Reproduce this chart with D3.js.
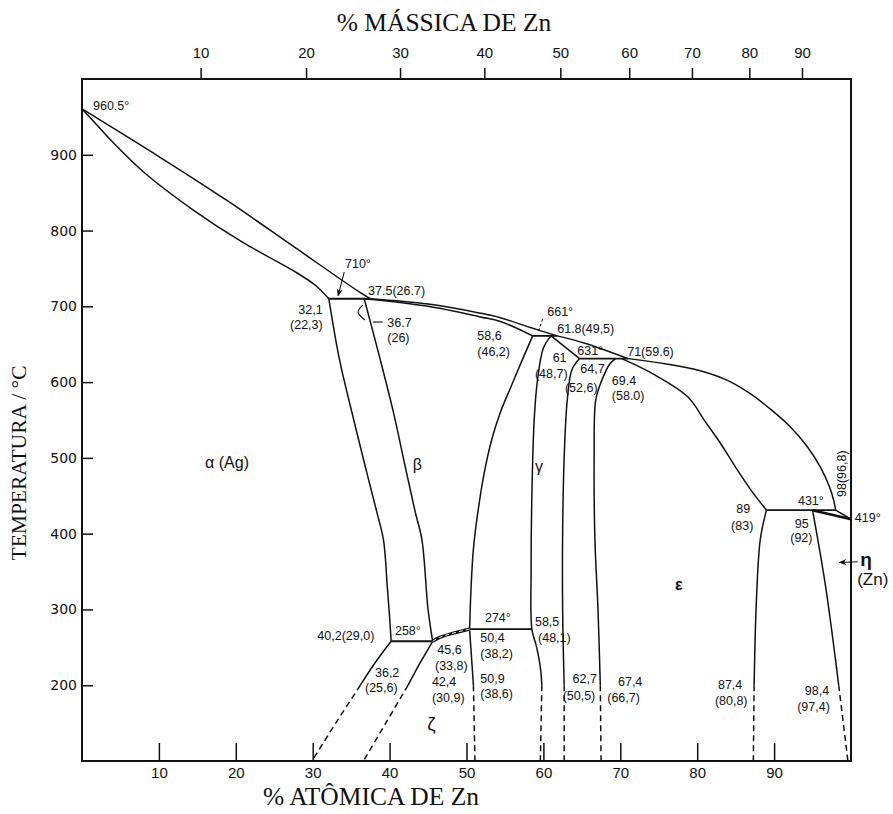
<!DOCTYPE html>
<html>
<head>
<meta charset="utf-8">
<script src="https://cdn.jsdelivr.net/npm/d3@7"></script>
<style>
  body { margin: 0; background: #fff; }
  svg { display: block; }
</style>
</head>
<body>
<svg id="chart" width="893" height="814"></svg>
<script>
// Ag–Zn phase diagram. Compositions in atomic % Zn, temperatures in °C.

// Tick values
const atomicTicks = [10, 20, 30, 40, 50, 60, 70, 80, 90];
const massTicks = [10, 20, 30, 40, 50, 60, 70, 80, 90];
const tempTicks = [200, 300, 400, 500, 600, 700, 800, 900];

// Liquidus and solidus curves
const liquidusAlpha = [[0, 960.5], [10.1, 897], [18.8, 840], [27.5, 779], [36.2, 718], [37.5, 710]];
const solidusAlpha = [[0, 960.5], [1.43, 945], [3.64, 920.4], [7.97, 877.6], [14.47, 827.1], [20.97, 784], [27.48, 747], [30.3, 728.1], [32.1, 710]];
const liquidusBeta = [[37.5, 710], [45, 703], [51.8, 691], [54.4, 685], [58.3, 672], [61.8, 661]];
const solidusBeta = [[36.7, 710], [45, 700], [51.8, 686], [54.4, 680], [58.6, 661]];
const liquidusGamma = [[61.8, 661], [65.5, 651], [71, 631]];
const solidusGamma = [[61, 661], [64.7, 631]];
const liquidusEpsilon = [[71, 631], [76, 624], [80.4, 615], [84, 602], [87, 584], [89.8, 562], [92, 542], [94.3, 515], [96, 488], [97.2, 462], [97.8, 442], [98, 431]];
const solidusEpsilon = [[70.2, 631], [74.3, 610.6], [78.8, 580.3], [81, 548.6], [83, 519.6], [84.9, 489.2], [86.9, 458.8], [89, 431]];
const liquidusZn = [[98, 431], [100, 419]];
const solidusEta = [[95, 431], [100, 419]];

// Invariant (horizontal) lines
const iso710 = [[32.1, 710], [37.5, 710]];
const iso661 = [[58.6, 661], [61.8, 661]];
const iso631 = [[64.7, 631], [71, 631]];
const iso431 = [[89, 431], [98, 431]];
const iso274 = [[50.4, 274], [58.5, 274]];
const iso258 = [[40.2, 258], [45.6, 258]];

// Solid-state boundaries
const alphaBeta = [[32.1, 710], [33.5, 629], [35.1, 560], [36.8, 490], [38.3, 430], [39.2, 392], [39.7, 330], [40, 290], [40.2, 258]];
const betaLeft = [[36.7, 710], [38.8, 629], [40.5, 560], [42, 490], [43.3, 430], [44.2, 392], [45, 300], [45.6, 258]];
const betaRight = [[58.6, 661], [57.2, 628], [55.7, 592], [54.4, 560], [53.3, 525], [52.3, 480], [51.5, 430], [50.9, 380], [50.6, 330], [50.4, 274]];
const gammaLeft = [[61, 661], [60, 645], [59.2, 600], [58.8, 550], [58.5, 450], [58.4, 350], [58.5, 274], [59.1, 251], [59.6, 224], [59.8, 200]];
const gammaLeftLow = [[59.8, 200], [59.6, 100]];
const gammaRight = [[64.7, 631], [63.7, 616], [63.1, 576], [62.7, 500], [62.5, 400], [62.5, 300], [62.7, 200]];
const gammaRightLow = [[62.7, 200], [62.7, 100]];
const epsilonLeft = [[69.4, 631], [68.7, 625], [67.5, 600], [66.8, 576], [66.6, 500], [66.7, 392], [67.1, 300], [67.4, 200]];
const epsilonLeftLow = [[67.4, 200], [67.5, 100]];
const epsilonRight = [[89, 431], [88.2, 392], [87.7, 312], [87.4, 200]];
const epsilonRightLow = [[87.4, 200], [87.3, 100]];
const etaSolvus = [[95, 431], [96.7, 330], [98.4, 200]];
const etaSolvusLow = [[98.4, 200], [99.6, 100]];
const zetaTop = [[45.6, 258], [46.5, 263], [48, 268], [50.4, 274]];
const zetaRight = [[50.4, 274], [50.9, 200]];
const zetaRightLow = [[50.9, 200], [51.1, 100]];
const zetaLeft = [[45.6, 258], [44, 230], [42.4, 200]];
const zetaLeftLow = [[42.4, 200], [39.5, 150], [36.6, 100]];
const alphaZeta = [[40.2, 258], [38, 228], [36.2, 200]];
const alphaZetaLow = [[36.2, 200], [33, 150], [29.9, 100]];

// Point annotations: text, at.% Zn, °C (text start unless marked)
const pointLabels = [
  ["960.5°", 1.43, 959],
  ["710°", 34.2, 750.6],
  ["37.5(26.7)", 37.2, 714.9],
  ["32,1", 31.3, 689.5, "end"],
  ["(22,3)", 31.3, 670, "end"],
  ["36.7", 39.7, 672.7],
  ["(26)", 39.7, 652.9],
  ["58,6", 51.4, 656],
  ["(46,2)", 51.4, 634.4],
  ["661°", 60.5, 687.2],
  ["61.8(49,5)", 61.8, 664.8],
  ["61", 61.2, 626],
  ["(48,7)", 58.9, 605.4],
  ["631°", 64.4, 635.8],
  ["64,7", 64.8, 612],
  ["(52,6)", 62.8, 587],
  ["71(59.6)", 70.9, 634.4],
  ["69.4", 68.9, 596.2],
  ["(58.0)", 68.9, 576.4],
  ["431°", 93.1, 437.8],
  ["419°", 100.5, 415.4],
  ["89", 86.9, 427.3, "end"],
  ["(83)", 87.3, 404.8, "end"],
  ["95", 92.7, 407.5],
  ["(92)", 92.1, 389],
  ["274°", 52.4, 283.4],
  ["40,2(29,0)", 30.6, 259.7],
  ["258°", 40.7, 266.3],
  ["45,6", 46.2, 241],
  ["(33,8)", 45.9, 220.1],
  ["50,4", 51.8, 256.5],
  ["(38,2)", 51.8, 235.9],
  ["36,2", 38.1, 211.5],
  ["(25,6)", 36.8, 191],
  ["42,4", 45.5, 198.5],
  ["(30,9)", 45.5, 178.5],
  ["50,9", 51.8, 203.5],
  ["(38,6)", 51.8, 183.1],
  ["58,5", 58.9, 278],
  ["(48,1)", 59.3, 257],
  ["62,7", 63.8, 203.5],
  ["(50,5)", 62.5, 180.5],
  ["67,4", 69.7, 199],
  ["(66,7)", 68.3, 178.5],
  ["87,4", 82.7, 195.5],
  ["(80,8)", 82.3, 173.9],
  ["98,4", 94, 187.5],
  ["(97,4)", 93, 166]
];
const verticalLabel = ["98(96,8)", 99.35, 448.4];

// Phase field names
const phaseLabels = [
  ["α (Ag)", 16, 486.6],
  ["β", 43, 484],
  ["γ", 58.9, 481],
  ["ε", 77.1, 325.7],
  ["ζ", 44.9, 141]
];

const svg = d3.select("#chart");
const x = d3.scaleLinear().domain([0, 100]).range([82, 851]);
const y = d3.scaleLinear().domain([100, 1000]).range([761, 79]);

// mass % Zn -> atomic % Zn
const M_AG = 107.87, M_ZN = 65.38;
const massToAtomic = w => 100 * (w / M_ZN) / (w / M_ZN + (100 - w) / M_AG);

const ink = "#111";
const sans = "'Liberation Sans', Arial, Helvetica, sans-serif";
const serif = "'Liberation Serif', 'Times New Roman', serif";

const defs = svg.append("defs");
defs.append("marker").attr("id", "arrow")
  .attr("viewBox", "0 0 10 10").attr("refX", 9).attr("refY", 5)
  .attr("markerWidth", 7).attr("markerHeight", 7).attr("orient", "auto-start-reverse")
  .append("path").attr("d", "M0,1 L10,5 L0,9 L3,5 Z").attr("fill", ink);

const smooth = d3.line().x(d => x(d[0])).y(d => y(d[1])).curve(d3.curveCatmullRom.alpha(0.5));
const straight = d3.line().x(d => x(d[0])).y(d => y(d[1]));

const plot = svg.append("g");

function draw(pts, opts = {}) {
  return plot.append("path")
    .attr("d", (opts.straight ? straight : smooth)(pts))
    .attr("fill", "none")
    .attr("stroke", ink)
    .attr("stroke-width", opts.w || 1.5)
    .attr("stroke-dasharray", opts.dash ? "6,4" : null)
    .attr("stroke-linejoin", "round");
}

[liquidusAlpha, solidusAlpha, liquidusBeta, solidusBeta, liquidusGamma, liquidusEpsilon, solidusEpsilon,
 alphaBeta, betaLeft, betaRight, gammaLeft, gammaRight, epsilonLeft, epsilonRight, etaSolvus,
 zetaRight, zetaLeft, alphaZeta].forEach(p => draw(p));
[solidusGamma, liquidusZn].forEach(p => draw(p, { straight: true }));
draw(solidusEta, { straight: true, w: 2.6 });
[iso710, iso661, iso631, iso431, iso274, iso258].forEach(p => draw(p, { straight: true, w: 1.8 }));
[gammaLeftLow, gammaRightLow, epsilonLeftLow, epsilonRightLow, etaSolvusLow, zetaRightLow, zetaLeftLow, alphaZetaLow]
  .forEach(p => draw(p, { dash: true }));

// double boundary on top of the ζ field
draw(zetaTop, { w: 3.2 });
plot.append("path").attr("d", smooth(zetaTop)).attr("fill", "none")
  .attr("stroke", "#fff").attr("stroke-width", 1).attr("stroke-dasharray", "4,3");

// frame
svg.append("rect")
  .attr("x", x(0)).attr("y", y(1000))
  .attr("width", x(100) - x(0)).attr("height", y(100) - y(1000))
  .attr("fill", "none").attr("stroke", ink).attr("stroke-width", 2);

// bottom axis: atomic %
const bottomAxis = svg.append("g").attr("transform", `translate(0,${y(100)})`)
  .call(d3.axisBottom(x).tickValues(atomicTicks).tickSizeInner(-18).tickSizeOuter(0).tickPadding(6));
bottomAxis.select(".domain").remove();
bottomAxis.selectAll("line").attr("stroke", ink).attr("stroke-width", 1.5);
bottomAxis.selectAll("text").attr("font-family", sans).attr("font-size", 15).attr("fill", ink);

// left axis: temperature
const leftAxis = svg.append("g").attr("transform", `translate(${x(0)},0)`)
  .call(d3.axisLeft(y).tickValues(tempTicks).tickSizeInner(-11).tickSizeOuter(0).tickPadding(5));
leftAxis.select(".domain").remove();
leftAxis.selectAll("line").attr("stroke", ink).attr("stroke-width", 1.5);
leftAxis.selectAll("text").attr("font-family", "'DejaVu Sans', sans-serif").attr("font-size", 14).attr("fill", ink);

// top axis: mass %
const massAxis = svg.append("g");
massAxis.selectAll("line").data(massTicks).join("line")
  .attr("x1", d => x(massToAtomic(d))).attr("x2", d => x(massToAtomic(d)))
  .attr("y1", y(1000)).attr("y2", y(1000) - 11)
  .attr("stroke", ink).attr("stroke-width", 1.5);
massAxis.selectAll("text").data(massTicks).join("text")
  .attr("x", d => x(massToAtomic(d))).attr("y", 58)
  .attr("text-anchor", "middle").attr("font-family", sans).attr("font-size", 15).attr("fill", ink)
  .text(d => d);

// axis titles
svg.append("text").attr("x", 444).attr("y", 31).attr("text-anchor", "middle")
  .attr("font-family", serif).attr("font-size", 25.5).attr("fill", ink).text("% MÁSSICA DE Zn");
svg.append("text").attr("x", 371).attr("y", 805).attr("text-anchor", "middle")
  .attr("font-family", serif).attr("font-size", 25.5).attr("fill", ink).text("% ATÔMICA DE Zn");
svg.append("text").attr("transform", "translate(26,463) rotate(-90)").attr("text-anchor", "middle")
  .attr("font-family", serif).attr("font-size", 21.5).attr("fill", ink).text("TEMPERATURA / °C");

// point annotations
svg.append("g").selectAll("text").data(pointLabels).join("text")
  .attr("x", d => x(d[1])).attr("y", d => y(d[2]))
  .attr("text-anchor", d => d[3] || "start")
  .attr("font-family", sans).attr("font-size", 12.5).attr("fill", ink)
  .text(d => d[0]);
svg.append("text")
  .attr("transform", `translate(${x(verticalLabel[1])},${y(verticalLabel[2])}) rotate(-90)`)
  .attr("font-family", sans).attr("font-size", 12.5).attr("fill", ink)
  .text(verticalLabel[0]);

// phase names
svg.append("g").selectAll("text").data(phaseLabels).join("text")
  .attr("x", d => x(d[1])).attr("y", d => y(d[2]))
  .attr("font-family", sans).attr("font-size", d => d[0] === "ζ" ? 19 : 16)
  .attr("font-weight", d => d[0] === "ε" ? "bold" : "normal")
  .attr("fill", ink).text(d => d[0]);
svg.append("text").attr("x", x(101.2)).attr("y", y(357)).attr("font-family", sans)
  .attr("font-size", 19).attr("font-weight", "bold").attr("fill", ink).text("η");
svg.append("text").attr("x", x(100.8)).attr("y", y(332)).attr("font-family", sans)
  .attr("font-size", 17).attr("fill", ink).text("(Zn)");

// leader arrows and pointers
const leaders = svg.append("g").attr("fill", "none").attr("stroke", ink).attr("stroke-width", 1.1);
leaders.append("path").attr("d", straight([[34.1, 745], [33.3, 714]])).attr("marker-end", "url(#arrow)");
leaders.append("path").attr("d", straight([[100.9, 363], [98.5, 362]])).attr("marker-end", "url(#arrow)");
leaders.append("path").attr("d", straight([[59.9, 683.5], [59.3, 665]])).attr("stroke-dasharray", "3,2");
leaders.append("path").attr("d", straight([[39.1, 679.3], [37.8, 679.3]]));
leaders.append("path").attr("d", smooth([[36.5, 701.6], [35.9, 692.4], [36.8, 681.9]]));
</script>
</body>
</html>
